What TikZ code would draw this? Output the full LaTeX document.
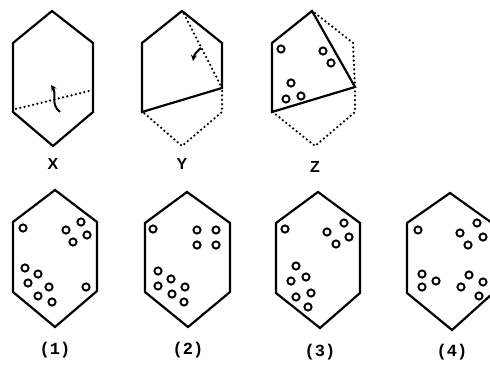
\documentclass[tikz,border=0pt]{standalone}
\usepackage{fontspec}
\usetikzlibrary{arrows.meta}
\setmainfont{Liberation Sans}
\newfontfamily\monob{Liberation Mono}
\newcommand\ringset[1]{\foreach \p in {#1} \draw[ring] \p circle (3.6pt);}
\begin{document}
\begin{tikzpicture}[x=1pt,y=-1pt,
 edge/.style={line width=2.2pt, line join=miter},
 dotline/.style={line width=2.5pt, line cap=round, dash pattern=on 0pt off 4.4pt},
 ring/.style={line width=1.9pt},
 foldarrow/.style={line width=2pt, -{Stealth[length=6pt,width=6pt]}},
 lbl/.style={font=\bfseries\fontsize{16}{16}\selectfont},
 numlbl/.style={font=\monob\bfseries\fontsize{17}{17}\selectfont}]
\useasboundingbox (0,0) rectangle (490,366);
\clip (0,0) rectangle (490,366);
\fill[white] (0,0) rectangle (490,366);
% ---- X ----
\draw[edge] (52,11) -- (93,43) -- (93,112) -- (53,146) -- (13,112) -- (13,43) -- cycle;
\draw[dotline] (16,109) -- (93,90);
\draw[foldarrow] (60,112) .. controls (50,104) and (57,94) .. (51,85);
\node[lbl] (lx) at (53,164) {X};
% ---- Y ----
\draw[edge] (142,112) -- (142,43) -- (182,11) -- (222,43) -- (222,88) -- cycle;
\draw[dotline] (184,14) -- (222,88);
\draw[dotline] (222,91) -- (222,112) -- (182,146) -- (144,113);
\draw[foldarrow] (201,48) .. controls (197,51) and (194,55) .. (193,61);
\node[lbl] (ly) at (182,164) {Y};
% ---- Z ----
\draw[edge] (272,112) -- (272,43) -- (312,11) -- (355,87) -- cycle;
\draw[dotline] (315,13) -- (353,43) -- (355,87) -- (355,112) -- (315,146) -- (274,113);
\ringset{(281,49),(323,51),(331,63),(291,83),(286,99),(301,96)}
\node[lbl] (lz) at (315,167) {Z};
% ---- (1) ----
\draw[edge] (55,190) -- (97,222) -- (97,291) -- (55,327) -- (13,292) -- (13,222) -- cycle;
\ringset{(23,228),(66,230),(81,222),(87,235),(73,242),(25,268),(38,274),(28,283),(49,287),(38,296),(52,302),(86,287)}
\node[numlbl] (l1) at (55,350) {(1)};
% ---- (2) ----
\draw[edge] (187,192) -- (230,223) -- (230,292) -- (188,327) -- (145,292) -- (145,223) -- cycle;
\ringset{(153,229),(197,230),(216,230),(197,245),(216,245),(158,271),(171,279),(158,286),(172,294),(185,287),(184,302)}
\node[numlbl] (l2) at (188,350) {(2)};
% ---- (3) ----
\draw[edge] (318,192) -- (360,223) -- (360,293) -- (320,328) -- (276,293) -- (276,223) -- cycle;
\ringset{(285,229),(327,232),(344,223),(349,237),(336,244),(296,266),(306,277),(291,281),(311,293),(296,297),(308,307)}
\node[numlbl] (l3) at (320,352) {(3)};
% ---- (4) ----
\draw[edge] (450,193) -- (492,223) -- (492,294) -- (452,330) -- (407,293) -- (407,223) -- cycle;
\ringset{(418,230),(460,233),(477,223),(483,237),(468,245),(422,274),(436,281),(422,287),(469,275),(461,287),(483,282),(479,296)}
\node[numlbl] (l4) at (452,352) {(4)};
\end{tikzpicture}
\end{document}
